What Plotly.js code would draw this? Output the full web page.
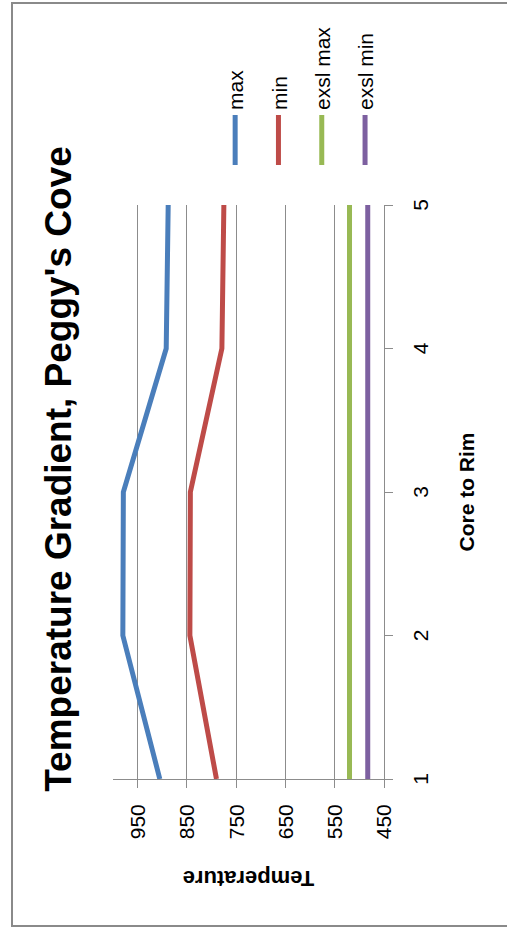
<!DOCTYPE html>
<html>
<head>
<meta charset="utf-8">
<script src="https://cdn.plot.ly/plotly-3.0.1.min.js"></script>
<style>
  html, body { margin: 0; padding: 0; background: #ffffff; }
  #wrap { position: relative; width: 507px; height: 928px; overflow: hidden; background: #ffffff; }
  /* the chart is laid out landscape and turned a quarter turn counter-clockwise */
  #chart { position: absolute; left: 0; top: 0; width: 928px; height: 507px;
           transform-origin: 0 0; transform: translateY(928px) rotate(-90deg); }
  #frame { position: absolute; left: 11px; top: 2px; width: 600px; height: 925px;
           border: 2px solid #8a8a8a; box-sizing: border-box; pointer-events: none; }
</style>
</head>
<body>
<div id="wrap">
  <div id="chart"></div>
  <div id="frame"></div>
</div>
<script>
// Position from core (1) to rim (5)
const positions = [1, 2, 3, 4, 5];

// Temperatures at each position
const maxTemp      = [905, 980, 979, 892, 888];
const minTemp      = [790, 844, 843, 779, 775];
const exslMaxTemp  = [520, 520, 520, 520, 520];
const exslMinTemp  = [483, 483, 483, 483, 483];

const seriesNames  = ['max', 'min', 'exsl max', 'exsl min'];
const seriesColors = ['#4a7ebb', '#be4b48', '#98b954', '#7d60a0'];
const seriesValues = [maxTemp, minTemp, exslMaxTemp, exslMinTemp];

const yTickVals = [450, 550, 650, 750, 850, 950];

const FONT = 'Liberation Sans, Arial, sans-serif';
const GRID = '#8c8c8c';

const traces = seriesValues.map((vals, i) => ({
  type: 'scatter',
  mode: 'lines',
  x: positions,
  y: vals,
  name: seriesNames[i],
  legendgroup: 'g' + i,
  line: { color: seriesColors[i], width: 5 }
}));

const layout = {
  width: 928,
  height: 507,
  margin: { l: 149, r: 205, t: 113, b: 123 },
  paper_bgcolor: 'rgba(0,0,0,0)',
  plot_bgcolor: 'rgba(0,0,0,0)',
  font: { family: FONT, size: 21, color: '#000000' },
  title: {
    text: "Temperature Gradient, Peggy's Cove",
    font: { family: FONT, size: 37, color: '#000000', weight: 'bold' },
    xref: 'container', x: 0.4946, xanchor: 'center',
    yref: 'container', y: 1 - 58 / 507, yanchor: 'middle'
  },
  showlegend: true,
  legend: {
    x: 1.061, xanchor: 'left',
    y: 0.6236, yanchor: 'top',
    tracegroupgap: 13,
    itemwidth: 50,
    font: { family: FONT, size: 21, color: '#000000' },
    bgcolor: 'rgba(0,0,0,0)'
  },
  xaxis: {
    range: [1, 5],
    tickvals: positions,
    ticktext: positions.map(String),
    showgrid: false,
    zeroline: false,
    showline: true, linecolor: GRID, linewidth: 1,
    ticks: 'outside', ticklen: 8, tickcolor: GRID, tickwidth: 1,
    ticklabelstandoff: 10,
    tickfont: { family: FONT, size: 21, color: '#000000' },
    title: {
      text: 'Core to Rim',
      font: { family: FONT, size: 21, color: '#000000', weight: 'bold' },
      standoff: 28
    }
  },
  yaxis: {
    range: [450, 1000],
    tickvals: yTickVals,
    showgrid: true, gridcolor: GRID, gridwidth: 1,
    zeroline: false,
    showline: true, linecolor: GRID, linewidth: 1,
    ticks: 'outside', ticklen: 8, tickcolor: GRID, tickwidth: 1,
    ticklabelstandoff: 12,
    tickfont: { family: FONT, size: 21, color: '#000000' },
    title: {
      text: 'Temperature',
      font: { family: FONT, size: 22, color: '#000000', weight: 'bold' },
      standoff: 25
    }
  }
};

Plotly.newPlot('chart', traces, layout, { displayModeBar: false, staticPlot: true });
</script>
</body>
</html>
